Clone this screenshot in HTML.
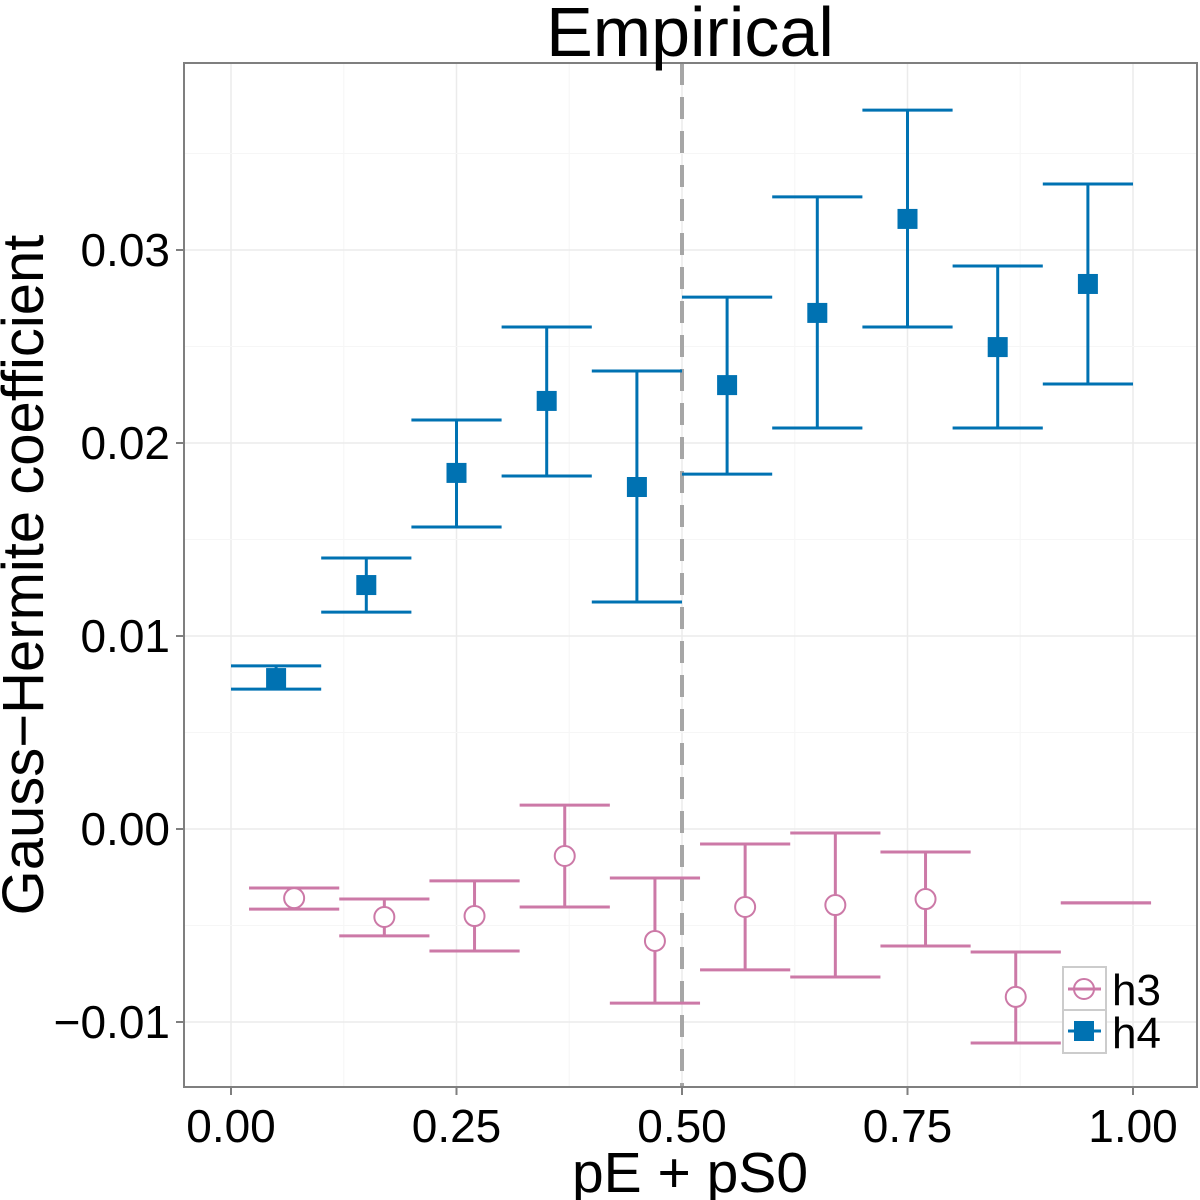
<!DOCTYPE html>
<html><head><meta charset="utf-8"><style>
body{margin:0;background:#fff;}
svg{display:block;font-family:"Liberation Sans",sans-serif;}
</style></head><body>
<svg id="chart" width="1200" height="1200" viewBox="0 0 1200 1200"></svg>
<script>
const h4X=[0.05,0.15,0.25,0.35,0.45,0.55,0.65,0.75,0.85,0.95];
const h4Y=[0.00782,0.01264,0.01845,0.02218,0.01772,0.0230,0.02674,0.03161,0.02497,0.02824];
const h4Hi=[0.00845,0.01404,0.02119,0.02601,0.02373,0.02756,0.03275,0.03725,0.02917,0.03342];
const h4Lo=[0.00725,0.01124,0.01565,0.01829,0.01176,0.01839,0.02078,0.02601,0.02078,0.02306];
const h3X=[0.07,0.17,0.27,0.37,0.47,0.57,0.67,0.77,0.87,0.97];
const h3Y=[-0.00358,-0.00456,-0.00451,-0.0014,-0.0058,-0.00404,-0.00394,-0.00363,-0.0087,null];
const h3Hi=[-0.00306,-0.00363,-0.00269,0.00124,-0.00254,-0.00078,-0.00021,-0.00119,-0.00637,-0.00383];
const h3Lo=[-0.00415,-0.00554,-0.00632,-0.00404,-0.00902,-0.0073,-0.00767,-0.00606,-0.01109,-0.00383];
const xTicks=[0,0.25,0.5,0.75,1];
const xTickLabels=["0.00","0.25","0.50","0.75","1.00"];
const yTicks=[-0.01,0,0.01,0.02,0.03];
const yTickLabels=["\u22120.01","0.00","0.01","0.02","0.03"];

const L=184,R=1197,T=63,B=1087;
const sx=v=>231+v*902;
const sy=v=>829-v*19300;
const svg=document.getElementById('chart');
const NS='http://www.w3.org/2000/svg';
function mk(tag,attrs,parent){const e=document.createElementNS(NS,tag);for(const k in attrs)e.setAttribute(k,attrs[k]);(parent||svg).appendChild(e);return e;}

const bg=mk('rect',{x:L,y:T,width:R-L,height:B-T,fill:'#fff'});


const grid=mk('g',{});


for(let i=0;i<xTicks.length;i++){
  mk('line',{x1:sx(xTicks[i]),x2:sx(xTicks[i]),y1:T,y2:B,stroke:'#ebebeb','stroke-width':1.5},grid);
  if(i<xTicks.length-1){const m=(xTicks[i]+xTicks[i+1])/2;mk('line',{x1:sx(m),x2:sx(m),y1:T,y2:B,stroke:'#f6f6f6','stroke-width':1},grid);}
}
for(let i=0;i<yTicks.length;i++){
  mk('line',{y1:sy(yTicks[i]),y2:sy(yTicks[i]),x1:L,x2:R,stroke:'#ebebeb','stroke-width':1.5},grid);
  const m=yTicks[i]+0.005;mk('line',{y1:sy(m),y2:sy(m),x1:L,x2:R,stroke:'#f6f6f6','stroke-width':1},grid);
}
const vl=mk('line',{x1:sx(0.5),x2:sx(0.5),y1:T,y2:B,stroke:'#a6a6a6','stroke-width':4,'stroke-dasharray':'22,12'});



const c3='#cc79a7',c4='#0072b2';
const g3=mk('g',{stroke:c3,'stroke-width':3,fill:'none'});


for(let i=0;i<h3X.length;i++){
  const x=sx(h3X[i]),a=sx(h3X[i]-0.05),b=sx(h3X[i]+0.05);
  const g=mk('g',{},g3);
  
  
  mk('line',{x1:a,x2:b,y1:sy(h3Hi[i]),y2:sy(h3Hi[i])},g);
  mk('line',{x1:a,x2:b,y1:sy(h3Lo[i]),y2:sy(h3Lo[i])},g);
  mk('line',{x1:x,x2:x,y1:sy(h3Hi[i]),y2:sy(h3Lo[i])},g);
  if(h3Y[i]!==null) mk('circle',{cx:x,cy:sy(h3Y[i]),r:10,fill:'#fff','stroke-width':2},g);
}
const g4=mk('g',{stroke:c4,'stroke-width':3});


for(let i=0;i<h4X.length;i++){
  const x=sx(h4X[i]),a=sx(h4X[i]-0.05),b=sx(h4X[i]+0.05);
  const g=mk('g',{},g4);
  
  
  mk('line',{x1:a,x2:b,y1:sy(h4Hi[i]),y2:sy(h4Hi[i])},g);
  mk('line',{x1:a,x2:b,y1:sy(h4Lo[i]),y2:sy(h4Lo[i])},g);
  mk('line',{x1:x,x2:x,y1:sy(h4Hi[i]),y2:sy(h4Lo[i])},g);
  mk('rect',{x:x-10,y:sy(h4Y[i])-10,width:20,height:20,fill:c4,stroke:'none'},g);
}
const border=mk('rect',{x:L,y:T,width:R-L,height:B-T,fill:'none',stroke:'#7f7f7f','stroke-width':2});



const xa=mk('g',{});


for(let i=0;i<xTicks.length;i++){
  mk('line',{x1:sx(xTicks[i]),x2:sx(xTicks[i]),y1:B,y2:B+8,stroke:'#7f7f7f','stroke-width':2},xa);
  const t=mk('text',{x:sx(xTicks[i]),y:B+55,'text-anchor':'middle','font-size':46,fill:'#000'},xa);t.textContent=xTickLabels[i];
}
const ya=mk('g',{});


for(let i=0;i<yTicks.length;i++){
  mk('line',{x1:L-8,x2:L,y1:sy(yTicks[i]),y2:sy(yTicks[i]),stroke:'#7f7f7f','stroke-width':2},ya);
  const t=mk('text',{x:L-14,y:sy(yTicks[i])+16,'text-anchor':'end','font-size':46,fill:'#000'},ya);t.textContent=yTickLabels[i];
}
const xt=mk('text',{x:690,y:1192,'text-anchor':'middle','font-size':57,fill:'#000'});xt.textContent='pE + pS0';


const yt=mk('text',{x:0,y:0,'text-anchor':'middle','font-size':58,fill:'#000',transform:'translate(43,575) rotate(-90)'});yt.textContent='Gauss\u2212Hermite coefficient';


const tt=mk('text',{x:690,y:56,'text-anchor':'middle','font-size':70,fill:'#000'});tt.textContent='Empirical';



const lg=mk('g',{});


mk('rect',{x:1063,y:967,width:43,height:86,fill:'#fff',stroke:'#cccccc','stroke-width':2},lg);
mk('line',{x1:1063,x2:1106,y1:1010,y2:1010,stroke:'#cccccc','stroke-width':2},lg);
const e1=mk('g',{},lg);


mk('line',{x1:1068,x2:1101,y1:989,y2:989,stroke:c3,'stroke-width':3},e1);
mk('circle',{cx:1084,cy:989,r:10,fill:'none',stroke:c3,'stroke-width':2},e1);
const l1=mk('text',{x:1112,y:1005,'font-size':44,fill:'#000'},e1);l1.textContent='h3';
const e2=mk('g',{},lg);


mk('line',{x1:1068,x2:1101,y1:1031,y2:1031,stroke:c4,'stroke-width':3},e2);
mk('rect',{x:1074,y:1021,width:20,height:20,fill:c4},e2);
const l2=mk('text',{x:1112,y:1048,'font-size':44,fill:'#000'},e2);l2.textContent='h4';
</script>
</body></html>
